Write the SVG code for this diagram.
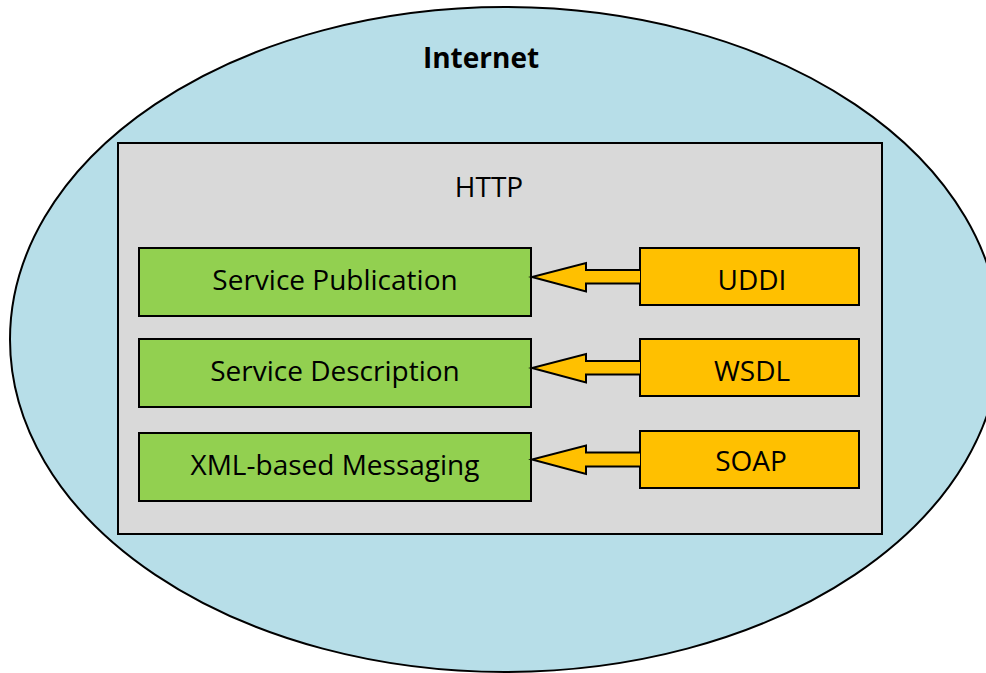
<svg xmlns="http://www.w3.org/2000/svg" width="986" height="673" viewBox="0 0 986 673">
  <style>
    .lbl { font-family: "Open Sans", "Noto Sans", sans-serif; font-size: 28px; fill: #000; text-anchor: middle; }
    .layer { fill: #92D050; stroke: #000; stroke-width: 2; }
    .std { fill: #FFC000; stroke: #000; stroke-width: 2; }
    .arrow { fill: #FFC000; stroke: #000; stroke-width: 2; stroke-linejoin: miter; }
  </style>
  <rect width="986" height="673" fill="#fff"/>

  <g id="internet">
    <ellipse cx="505" cy="339.5" rx="495" ry="332.5" fill="#B7DEE8" stroke="#000" stroke-width="2"/>
    <text class="lbl" x="481" y="68" font-size="24.5" font-weight="bold">Internet</text>
  </g>

  <g id="http">
    <rect x="118" y="143" width="764" height="391" fill="#D9D9D9" stroke="#000" stroke-width="2"/>
    <text class="lbl" x="489" y="197" font-size="27">HTTP</text>
  </g>

  <g id="service-publication">
    <rect class="layer" x="139" y="248" width="392" height="68"/>
    <text class="lbl" x="335" y="290">Service Publication</text>
  </g>
  <g id="service-description">
    <rect class="layer" x="139" y="339" width="392" height="68"/>
    <text class="lbl" x="335" y="381">Service Description</text>
  </g>
  <g id="xml-messaging">
    <rect class="layer" x="139" y="433" width="392" height="68"/>
    <text class="lbl" x="335" y="475">XML-based Messaging</text>
  </g>

  <g id="uddi">
    <rect class="std" x="640" y="248" width="219" height="57"/>
    <text class="lbl" x="752" y="290" font-size="27">UDDI</text>
  </g>
  <g id="wsdl">
    <rect class="std" x="640" y="339" width="219" height="57"/>
    <text class="lbl" x="752" y="381" font-size="27">WSDL</text>
  </g>
  <g id="soap">
    <rect class="std" x="640" y="431" width="219" height="57"/>
    <text class="lbl" x="751" y="471" font-size="27">SOAP</text>
  </g>

  <g id="connectors">
    <path class="arrow" d="M640,270 L586,270 L586,263 L532,277 L586,291.5 L586,283.5 L640,283.5"/>
    <path class="arrow" d="M640,361 L586,361 L586,354 L532,368 L586,382.5 L586,374.5 L640,374.5"/>
    <path class="arrow" d="M640,452.5 L586,452.5 L586,445.5 L532,459.5 L586,474 L586,466.5 L640,466.5"/>
  </g>
</svg>
